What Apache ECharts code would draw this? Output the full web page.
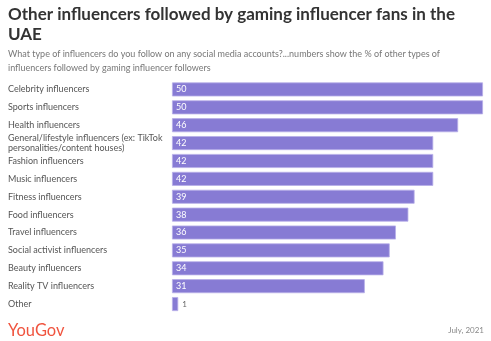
<!DOCTYPE html>
<html><head><meta charset="utf-8">
<script src="https://cdn.jsdelivr.net/npm/echarts@6/dist/echarts.min.js"></script>
<style>html,body{margin:0;padding:0;background:#fff}#c{width:491px;height:341px}</style>
</head><body><div id="c"></div>
<script>
const categories = [
  "Celebrity influencers",
  "Sports influencers",
  "Health influencers",
  "General/lifestyle influencers (ex: TikTok\npersonalities/content houses)",
  "Fashion influencers",
  "Music influencers",
  "Fitness influencers",
  "Food influencers",
  "Travel influencers",
  "Social activist influencers",
  "Beauty influencers",
  "Reality TV influencers",
  "Other"
];
const values = [50, 50, 46, 42, 42, 42, 39, 38, 36, 35, 34, 31, 1];

const chart = echarts.init(document.getElementById('c'), null, {renderer: 'canvas'});
const FONT = 'Lato, "Open Sans", sans-serif';
chart.setOption({
  animation: false,
  title: [
    {text: 'Other influencers followed by gaming influencer fans in the\nUAE', left: 8, top: 5, padding: 0,
     textStyle: {fontFamily: FONT, fontSize: 17, fontWeight: 'bold', color: '#333', lineHeight: 20}},
    {text: 'What type of influencers do you follow on any social media accounts?...numbers show the % of other types of\ninfluencers followed by gaming influencer followers', left: 8, top: 47, padding: 0,
     textStyle: {fontFamily: FONT, fontSize: 9, fontWeight: 'normal', color: '#777', lineHeight: 14}},
    {text: 'YouGov', left: 8, top: 322, padding: 0,
     textStyle: {fontFamily: FONT, fontSize: 16.5, fontWeight: 'normal', color: '#f0543f'}},
    {text: 'July, 2021', right: 7, top: 326, padding: 0,
     textStyle: {fontFamily: FONT, fontSize: 8, fontWeight: 'normal', color: '#888'}}
  ],
  grid: {left: 172, right: 8, top: 80.5, bottom: 28, containLabel: false},
  xAxis: {type: 'value', min: 0, max: 50, show: false},
  yAxis: {
    type: 'category', data: categories, inverse: true,
    axisLine: {show: false}, axisTick: {show: false},
    axisLabel: {margin: 164, align: 'left', color: '#555', fontFamily: FONT, fontSize: 9, lineHeight: 10.5}
  },
  series: [{
    type: 'bar', barWidth: 14,
    data: values.map(v => v < 5 ? {value: v, label: {position: 'right', color: '#666', fontSize: 8}} : v),
    itemStyle: {color: '#877bd4', borderColor: '#b8aee8', borderWidth: 0.8},
    label: {show: true, position: 'insideLeft', distance: 4, color: '#fff',
      fontFamily: FONT, fontSize: 9, formatter: p => p.value}
  }]
});
</script></body></html>
